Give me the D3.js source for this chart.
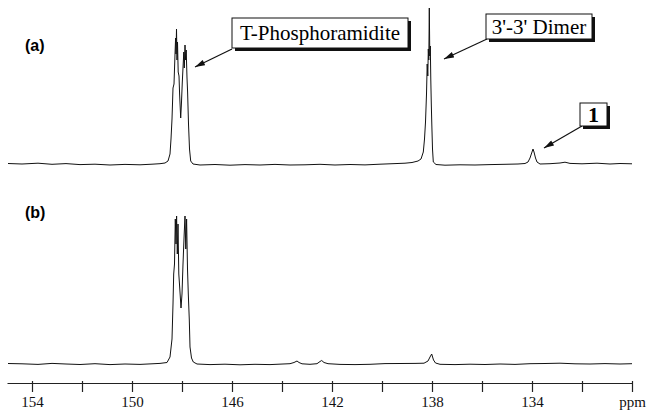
<!DOCTYPE html>
<html>
<head>
    <title>31P NMR spectra</title>
    <script src="https://d3js.org/d3.v7.min.js"></script>
    <style>
        body { margin: 0; background: #fff; }
        svg { display: block; }
    </style>
</head>
<body>
    <svg id="chart" width="655" height="410"></svg>

    <script>
        // spectrum (a): ppm and height above baseline
        var ppmA = [154.96, 154.40, 153.76, 153.20, 152.64, 152.08, 151.48, 150.88, 150.28, 149.68,
            149.20, 148.88, 148.68, 148.56, 148.48, 148.44, 148.40, 148.36, 148.32, 148.28,
            148.256, 148.24, 148.22, 148.20, 148.18, 148.152, 148.12, 148.096, 148.052, 148.02,
            147.988, 147.952, 147.928, 147.908, 147.88, 147.856, 147.832, 147.80, 147.776, 147.74,
            147.70, 147.652, 147.56, 147.28, 146.68, 146.08, 145.48, 144.88, 144.28, 143.68,
            143.08, 142.48, 141.88, 141.28, 140.68, 140.08, 139.48, 139.08, 138.80, 138.56,
            138.44, 138.348, 138.30, 138.26, 138.22, 138.192, 138.168, 138.148, 138.128, 138.108,
            138.088, 138.068, 138.048, 138.028, 138.008, 137.98, 137.948, 137.84, 137.48, 136.88,
            136.28, 135.68, 135.08, 134.56, 134.28, 134.16, 134.08, 134.00, 133.96, 133.92,
            133.86, 133.80, 133.68, 133.28, 132.88, 132.68, 132.48, 132.00, 131.40, 130.88,
            130.48, 130.00];
        var intA = [0.5, 0, 0.8, -0.3, 0.4, -0.6, -0.2, -1, -0.4, -0.8,
            -0.2, 0.3, 1, 3, 10, 25, 45, 76, 80, 110,
            126, 110, 135, 104, 122, 92, 88, 70, 46, 62,
            82, 100, 112, 96, 119, 104, 114, 86, 72, 40,
            15, 3, 0, -1, -0.5, -1.2, -0.6, -1, -0.4, -1,
            -0.8, -0.3, -1, -0.5, -0.9, -0.2, 0.4, 0.8, 1.5, 3,
            5, 12, 25, 42, 70, 100, 88, 115, 104, 156,
            108, 118, 84, 60, 40, 15, 2, -0.5, -1.2, -0.8,
            -1, -0.6, -0.3, 0, 0.5, 2, 6, 12, 15, 12,
            6, 2, 0, 0.3, 1, 1.8, 0.6, 0.2, 0.8, 0,
            0.5, 0.2];

        // spectrum (b)
        var ppmB = [154.96, 154.40, 153.76, 153.20, 152.64, 152.08, 151.48, 150.88, 150.28, 149.68,
            149.20, 148.88, 148.60, 148.48, 148.40, 148.36, 148.332, 148.30, 148.268, 148.24,
            148.216, 148.188, 148.16, 148.128, 148.088, 148.04, 148.00, 147.96, 147.912, 147.88,
            147.848, 147.816, 147.78, 147.748, 147.708, 147.68, 147.62, 147.548, 147.40, 146.88,
            146.28, 145.68, 145.08, 144.48, 143.96, 143.68, 143.52, 143.40, 143.32, 143.20,
            142.88, 142.60, 142.48, 142.412, 142.32, 142.16, 141.68, 141.08, 140.48, 139.88,
            139.28, 138.68, 138.32, 138.16, 138.08, 138.012, 137.94, 137.86, 137.68, 137.08,
            136.48, 135.88, 135.28, 134.68, 134.08, 133.48, 132.88, 132.28, 131.68, 131.08,
            130.48, 130.00];
        var intB = [0.5, 0.2, -0.4, 0.6, 0, -0.5, 0.3, -0.6, 0, -0.4,
            0.2, 0.6, 1.5, 7, 25, 60, 90, 100, 145, 120,
            148, 110, 140, 90, 75, 56, 70, 100, 130, 148,
            115, 145, 95, 70, 44, 17, 6, 2, 0, -0.6,
            -0.2, -0.8, -0.3, -0.6, 0, 0.3, 1.5, 3, 1.5, 0.2,
            -0.3, 0.3, 2.5, 3.5, 1.5, 0.3, -0.4, -0.6, -0.3, 0.4,
            0.5, 0.6, 0.8, 3, 7, 10, 4, 1, -0.3, -0.6,
            -0.2, -0.5, 0, -0.4, 0.3, 0.5, 0.8, 0.2, 0, 0.4,
            0, 0.3];

        var tickPpm = [154, 152, 150, 148, 146, 144, 142, 140, 138, 136, 134, 132, 130];
        var labelPpm = [154, 150, 146, 142, 138, 134];
        var unitLabel = "ppm";

        var panelLabels = ["(a)", "(b)"];
        var calloutText = ["T-Phosphoramidite", "3'-3' Dimer", "1"];
        var calloutPpm = [147.48, 137.52, 133.52];

        var SERIF = "'Liberation Serif', 'Times New Roman', serif";
        var SANS = "'Liberation Sans', Arial, sans-serif";

        var svg = d3.select("#chart");

        var x = d3.scaleLinear().domain([155, 130]).range([7, 632]);
        var yA = d3.scaleLinear().domain([0, 150]).range([164, 14]);
        var yB = d3.scaleLinear().domain([0, 150]).range([364, 214]);

        function drawTrace(ppm, ints, y) {
            var pts = ppm.map(function(p, i) { return [p, ints[i]]; });
            var line = d3.line()
                .x(function(d) { return x(d[0]); })
                .y(function(d) { return y(d[1]); });
            svg.append("path")
                .datum(pts)
                .attr("d", line)
                .attr("fill", "none")
                .attr("stroke", "#111")
                .attr("stroke-width", 1)
                .attr("stroke-linejoin", "round");
        }
        drawTrace(ppmA, intA, yA);
        drawTrace(ppmB, intB, yB);

        // axis
        var axis = d3.axisBottom(x)
            .tickValues(tickPpm)
            .tickSizeInner(9)
            .tickSizeOuter(0)
            .tickPadding(4)
            .tickFormat(function(d) {
                if (d === 130) return unitLabel;
                return labelPpm.indexOf(d) >= 0 ? d : "";
            });
        var gx = svg.append("g")
            .attr("transform", "translate(0,383)")
            .call(axis);
        gx.select(".domain").attr("stroke", "#222").attr("stroke-width", 1);
        gx.selectAll(".tick line").attr("stroke", "#222").attr("stroke-width", 1.2).attr("y1", -2);
        gx.selectAll(".tick text")
            .style("font-family", SERIF)
            .style("font-size", "15px")
            .attr("fill", "#111");

        // panel labels
        svg.selectAll(".panel")
            .data(panelLabels)
            .enter()
            .append("text")
            .attr("x", 25)
            .attr("y", function(d, i) { return i === 0 ? 51 : 218; })
            .style("font-family", SANS)
            .style("font-weight", "bold")
            .style("font-size", "16px")
            .text(function(d) { return d; });

        // arrowhead
        svg.append("defs").append("marker")
            .attr("id", "head")
            .attr("viewBox", "0 0 10 6")
            .attr("refX", 10)
            .attr("refY", 3)
            .attr("markerWidth", 11)
            .attr("markerHeight", 6)
            .attr("markerUnits", "userSpaceOnUse")
            .attr("orient", "auto")
            .append("path")
            .attr("d", "M0,0 L10,3 L0,6 Z")
            .attr("fill", "#111");

        // callout boxes: box left/top, size, text size, arrow start and tip height
        var boxes = [
            { left: 232, top: 18, w: 176, h: 30, fs: 21, bold: false, sx: 232, sy: 49, ty: 67 },
            { left: 486, top: 14, w: 106, h: 25, fs: 21, bold: false, sx: 487, sy: 39, ty: 59 },
            { left: 580, top: 103, w: 27, h: 23, fs: 22, bold: true, sx: 582, sy: 126, ty: 148 }
        ];

        boxes.forEach(function(b, i) {
            var g = svg.append("g");
            g.append("line")
                .attr("x1", b.sx).attr("y1", b.sy)
                .attr("x2", x(calloutPpm[i])).attr("y2", b.ty)
                .attr("stroke", "#111")
                .attr("stroke-width", 1.2)
                .attr("marker-end", "url(#head)");
            g.append("rect")
                .attr("x", b.left + 3).attr("y", b.top + 3)
                .attr("width", b.w).attr("height", b.h)
                .attr("fill", "#111");
            g.append("rect")
                .attr("x", b.left).attr("y", b.top)
                .attr("width", b.w).attr("height", b.h)
                .attr("fill", "#fff")
                .attr("stroke", "#111")
                .attr("stroke-width", 1);
            g.append("text")
                .attr("x", b.left + b.w / 2)
                .attr("y", b.top + b.h / 2)
                .attr("dy", "0.35em")
                .attr("text-anchor", "middle")
                .style("font-family", SERIF)
                .style("font-size", b.fs + "px")
                .style("font-weight", b.bold ? "bold" : "normal")
                .text(calloutText[i]);
        });
    </script>
</body>
</html>
